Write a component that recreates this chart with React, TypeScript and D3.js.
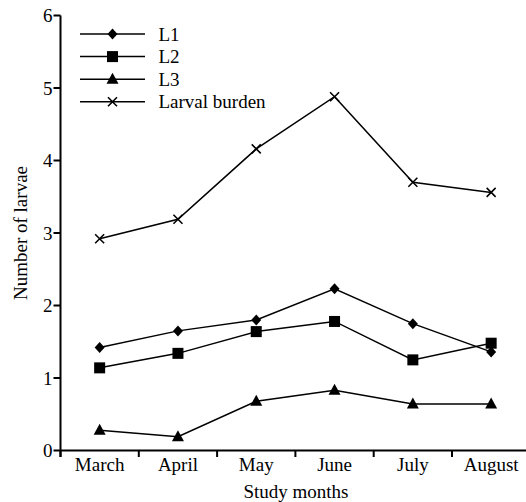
import React, { useEffect, useRef } from "react";
import * as d3 from "d3";

const months = ["March", "April", "May", "June", "July", "August"];
const l1 = [1.42, 1.65, 1.8, 2.23, 1.75, 1.36];
const l2 = [1.14, 1.34, 1.64, 1.78, 1.25, 1.48];
const l3 = [0.28, 0.19, 0.68, 0.83, 0.64, 0.64];
const burden = [2.92, 3.19, 4.16, 4.88, 3.7, 3.56];
const yTicks = [0, 1, 2, 3, 4, 5, 6];

const series = [
  { name: "L1", values: l1, marker: "diamond" },
  { name: "L2", values: l2, marker: "square" },
  { name: "L3", values: l3, marker: "triangle" },
  { name: "Larval burden", values: burden, marker: "cross" },
];

const FONT = "Liberation Serif, Times New Roman, serif";

function drawMarker(g: any, type: string, x: number, y: number) {
  if (type === "diamond") {
    g.append("path")
      .attr("d", `M${x},${y - 5.5}L${x + 5},${y}L${x},${y + 5.5}L${x - 5},${y}Z`)
      .attr("fill", "#000");
  } else if (type === "square") {
    g.append("rect")
      .attr("x", x - 5.5)
      .attr("y", y - 5.5)
      .attr("width", 11)
      .attr("height", 11)
      .attr("fill", "#000");
  } else if (type === "triangle") {
    g.append("path")
      .attr("d", `M${x},${y - 6.5}L${x + 6},${y + 4.5}L${x - 6},${y + 4.5}Z`)
      .attr("fill", "#000");
  } else {
    g.append("path")
      .attr("d", `M${x - 4.5},${y - 4.5}L${x + 4.5},${y + 4.5}M${x - 4.5},${y + 4.5}L${x + 4.5},${y - 4.5}`)
      .attr("stroke", "#000")
      .attr("stroke-width", 1.6)
      .attr("fill", "none");
  }
}

function Chart() {
  const ref = useRef<SVGSVGElement>(null);

  useEffect(() => {
    const svg = d3.select(ref.current);
    svg.selectAll("*").remove();

    const x0 = 60.5;
    const bw = 78.3;
    const x_scale = d3
      .scaleBand()
      .domain(months)
      .range([x0, x0 + bw * months.length]);
    const y_scale = d3.scaleLinear().domain([0, 6]).range([450.5, 15.5]);

    const g = svg.append("g");

    const label = (sel: any) =>
      sel.attr("font-family", FONT).attr("font-size", 19).attr("fill", "#000");

    // data lines
    const line = d3
      .line<number>()
      .x((d, i) => x_scale(months[i])! + x_scale.bandwidth() / 2)
      .y((d) => y_scale(d));

    series.forEach((s) => {
      g.append("path")
        .datum(s.values)
        .attr("d", line)
        .attr("fill", "none")
        .attr("stroke", "#000")
        .attr("stroke-width", 1.5);
      s.values.forEach((v, i) => {
        drawMarker(g, s.marker, x_scale(months[i])! + x_scale.bandwidth() / 2, y_scale(v));
      });
    });

    // y axis
    g.append("line")
      .attr("x1", x0)
      .attr("x2", x0)
      .attr("y1", y_scale(6))
      .attr("y2", y_scale(0) + 6.5)
      .attr("stroke", "#000")
      .attr("stroke-width", 2);
    yTicks.forEach((t) => {
      g.append("line")
        .attr("x1", x0 - 7)
        .attr("x2", x0)
        .attr("y1", y_scale(t))
        .attr("y2", y_scale(t))
        .attr("stroke", "#000")
        .attr("stroke-width", 2);
      g.append("text")
        .call(label)
        .attr("x", x0 - 8)
        .attr("y", y_scale(t) + 6.5)
        .attr("text-anchor", "end")
        .text(String(t));
    });

    // x axis
    g.append("line")
      .attr("x1", x0)
      .attr("x2", x0 + bw * months.length)
      .attr("y1", y_scale(0))
      .attr("y2", y_scale(0))
      .attr("stroke", "#000")
      .attr("stroke-width", 2);
    months.forEach((m) => {
      g.append("line")
        .attr("x1", x_scale(m)!)
        .attr("x2", x_scale(m)!)
        .attr("y1", y_scale(0))
        .attr("y2", y_scale(0) + 6.5)
        .attr("stroke", "#000")
        .attr("stroke-width", 2);
      g.append("text")
        .call(label)
        .attr("x", x_scale(m)! + x_scale.bandwidth() / 2)
        .attr("y", 471)
        .attr("text-anchor", "middle")
        .text(m);
    });

    g.append("text")
      .call(label)
      .attr("x", 296)
      .attr("y", 498)
      .attr("text-anchor", "middle")
      .text("Study months");

    g.append("text")
      .call(label)
      .attr("transform", `translate(27,${(y_scale(0) + y_scale(6)) / 2}) rotate(-90)`)
      .attr("text-anchor", "middle")
      .text("Number of larvae");

    // legend
    series.forEach((s, i) => {
      const ly = 34 + i * 22.6;
      g.append("line")
        .attr("x1", 80)
        .attr("x2", 145)
        .attr("y1", ly)
        .attr("y2", ly)
        .attr("stroke", "#000")
        .attr("stroke-width", 1.5);
      drawMarker(g, s.marker, 112.5, ly);
      g.append("text")
        .call(label)
        .attr("x", 158.5)
        .attr("y", ly + 6.5)
        .attr("text-anchor", "start")
        .text(s.name);
    });
  }, []);

  return <svg ref={ref} width={526} height={502}></svg>;
}

export default function App() {
  return (
    <div style={{ position: "absolute", left: 0, top: 0, background: "#fff" }}>
      <Chart />
    </div>
  );
}
